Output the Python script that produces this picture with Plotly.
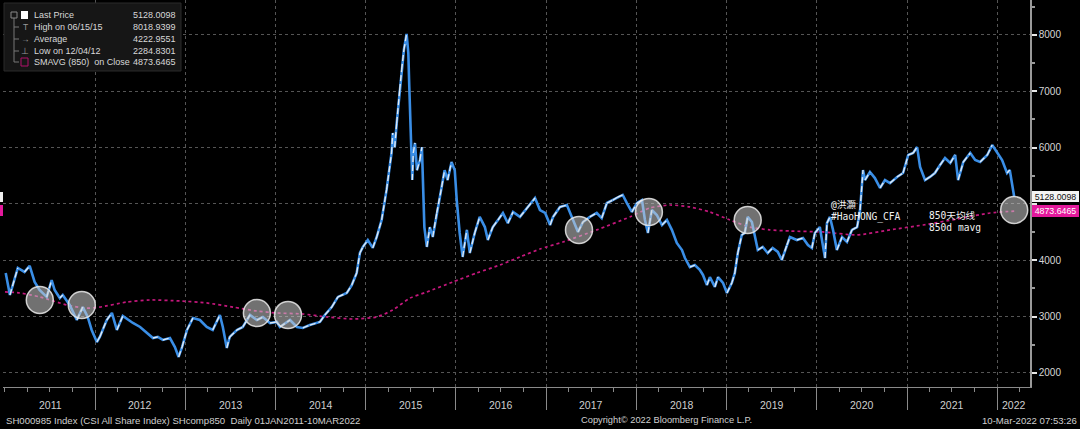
import plotly.graph_objects as go
import pandas as pd

# ---------------- data ----------------
price_dates = [
    "2011-01-04", "2011-01-21", "2011-02-22", "2011-03-21", "2011-04-11", "2011-05-01", "2011-05-21", "2011-06-19",
    "2011-07-09", "2011-07-21", "2011-08-11", "2011-08-23", "2011-09-20", "2011-10-19", "2011-11-12", "2011-12-02",
    "2011-12-18", "2012-01-08", "2012-01-20", "2012-02-17", "2012-03-09", "2012-03-29", "2012-04-22", "2012-05-13",
    "2012-06-02", "2012-07-01", "2012-07-29", "2012-08-22", "2012-09-11", "2012-10-01", "2012-10-30", "2012-11-19",
    "2012-12-04", "2012-12-18", "2013-01-07", "2013-01-31", "2013-02-28", "2013-03-28", "2013-04-21", "2013-05-20",
    "2013-06-01", "2013-06-17", "2013-06-29", "2013-07-28", "2013-08-21", "2013-09-19", "2013-10-17", "2013-11-10",
    "2013-12-09", "2014-01-06", "2014-01-18", "2014-02-28", "2014-03-28", "2014-04-21", "2014-05-19", "2014-06-29",
    "2014-07-19", "2014-08-16", "2014-09-10", "2014-10-16", "2014-11-05", "2014-11-25", "2014-12-08", "2014-12-20",
    "2015-01-09", "2015-01-29", "2015-02-14", "2015-03-06", "2015-03-26", "2015-04-15", "2015-04-20", "2015-04-28",
    "2015-05-06", "2015-05-18", "2015-05-26", "2015-06-04", "2015-06-15", "2015-06-22", "2015-06-26", "2015-07-01",
    "2015-07-08", "2015-07-12", "2015-07-19", "2015-07-27", "2015-08-08", "2015-08-16", "2015-08-20", "2015-08-26",
    "2015-09-05", "2015-09-17", "2015-09-29", "2015-10-15", "2015-11-04", "2015-11-16", "2015-11-28", "2015-12-14",
    "2015-12-27", "2016-01-04", "2016-01-16", "2016-01-28", "2016-02-14", "2016-02-26", "2016-03-17", "2016-04-06",
    "2016-04-27", "2016-05-09", "2016-05-29", "2016-06-19", "2016-07-09", "2016-07-29", "2016-08-19", "2016-09-16",
    "2016-10-15", "2016-11-16", "2016-12-06", "2016-12-27", "2017-01-16", "2017-01-28", "2017-02-25", "2017-03-25",
    "2017-04-14", "2017-05-09", "2017-05-29", "2017-06-26", "2017-07-24", "2017-08-13", "2017-09-03", "2017-09-27",
    "2017-10-17", "2017-11-06", "2017-11-23", "2017-12-13", "2018-01-03", "2018-01-23", "2018-02-04", "2018-02-16",
    "2018-03-04", "2018-03-24", "2018-04-14", "2018-05-04", "2018-05-24", "2018-06-13", "2018-07-04", "2018-07-16",
    "2018-08-05", "2018-08-25", "2018-09-14", "2018-09-27", "2018-10-13", "2018-10-25", "2018-11-14", "2018-11-27",
    "2018-12-17", "2019-01-02", "2019-01-22", "2019-02-03", "2019-02-15", "2019-03-03", "2019-03-15", "2019-03-27",
    "2019-04-13", "2019-04-25", "2019-05-07", "2019-05-27", "2019-06-16", "2019-07-06", "2019-07-27", "2019-08-12",
    "2019-09-02", "2019-09-14", "2019-10-12", "2019-11-06", "2019-11-26", "2019-12-12", "2019-12-24", "2020-01-13",
    "2020-02-03", "2020-02-11", "2020-02-23", "2020-03-06", "2020-03-22", "2020-04-12", "2020-05-02", "2020-05-22",
    "2020-06-12", "2020-06-24", "2020-07-06", "2020-07-14", "2020-08-03", "2020-08-23", "2020-09-13", "2020-10-03",
    "2020-10-23", "2020-11-21", "2020-12-15", "2021-01-05", "2021-01-25", "2021-02-10", "2021-02-22", "2021-03-14",
    "2021-04-03", "2021-04-23", "2021-05-14", "2021-06-03", "2021-06-24", "2021-07-14", "2021-07-26", "2021-08-16",
    "2021-09-13", "2021-10-03", "2021-10-23", "2021-11-21", "2021-12-11", "2021-12-31", "2022-01-20", "2022-02-09",
    "2022-02-20", "2022-03-10",
]
price_values = [
    3775, 3385, 3864, 3793, 3900, 3615, 3473, 3350,
    3650, 3473, 3330, 3385, 3207, 2940, 3170, 2994,
    2763, 2550, 2640, 2940, 3065, 2763, 3012, 2940,
    2887, 2817, 2710, 2620, 2640, 2586, 2620, 2460,
    2284.83, 2460, 2763, 2976, 2940, 2817, 2763, 3030,
    2817, 2444, 2640, 2763, 2817, 3030, 2940, 2994,
    2887, 2905, 2817, 2940, 2817, 2800, 2850, 2905,
    3030, 3170, 3350, 3420, 3560, 3775, 4130, 4237,
    4360, 4220, 4414, 4716, 5250, 5905, 6260, 6010,
    6437, 7023, 7380, 7733, 8018.94, 7680, 7077, 6190,
    5425, 5905, 6083, 5600, 5780, 6010, 5300, 4590,
    4237, 4590, 4414, 4840, 5300, 5600, 5425, 5745,
    5600, 5070, 4485, 4060, 4540, 4130, 4485, 4770,
    4590, 4360, 4590, 4716, 4840, 4660, 4858, 4770,
    4929, 5106, 4893, 4840, 4627, 4770, 4947, 4982,
    4770, 4503, 4680, 4770, 4840, 4750, 5017, 5070,
    5124, 5160, 5017, 4858, 5017, 5070, 4716, 4485,
    4893, 4805, 4627, 4716, 4540, 4308, 4183, 4040,
    3880, 3915, 3830, 3740, 3560, 3700, 3527, 3700,
    3600, 3420, 3600, 3775, 4130, 4450, 4485, 4770,
    4680, 4414, 4183, 4237, 4130, 4220, 4150, 4005,
    4272, 4414, 4360, 4396, 4272, 4218, 4485, 4590,
    4040, 4660, 4770, 4550, 4183, 4414, 4325, 4540,
    4590, 4893, 5603, 5425, 5568, 5460, 5284, 5425,
    5370, 5480, 5550, 5870, 5905, 6010, 5656, 5425,
    5480, 5550, 5692, 5816, 5727, 5870, 5425, 5745,
    5905, 5780, 5745, 5870, 6047, 5923, 5780, 5550,
    5603, 5128.0098,
]

sma_dates = [
    "2011-01-01", "2011-03-02", "2011-05-22", "2011-09-08", "2011-11-28", "2012-01-20", "2012-05-09", "2012-08-10",
    "2012-12-10", "2013-03-28", "2013-07-12", "2013-10-17", "2014-01-06", "2014-04-21", "2014-07-27", "2014-11-09",
    "2015-02-14", "2015-04-20", "2015-06-29", "2015-09-05", "2015-12-19", "2016-03-25", "2016-06-27", "2016-09-16",
    "2016-12-06", "2017-03-09", "2017-07-24", "2017-12-05", "2018-02-24", "2018-05-16", "2018-08-05", "2018-10-25",
    "2019-01-14", "2019-04-05", "2019-06-24", "2019-09-14", "2020-01-25", "2020-06-12", "2020-10-23", "2021-03-06",
    "2021-07-22", "2021-12-02", "2022-03-10",
]
sma_values = [
    3440, 3420, 3350, 3207, 3150, 3170, 3260, 3296,
    3278, 3243, 3170, 3100, 3065, 3047, 2994, 2958,
    2994, 3118, 3330, 3438, 3615, 3775, 3917, 4060,
    4200, 4325, 4540, 4770, 4929, 4982, 4947, 4858,
    4716, 4590, 4540, 4520, 4503, 4450, 4540, 4627,
    4734, 4840, 4873.6465,
]

circle_dates = ["2011-05-22", "2011-11-08", "2013-10-17", "2014-02-20",
                "2017-05-13", "2018-02-20", "2019-03-27", "2022-03-10"]
circle_values = [3296, 3207, 3065, 3030, 4540, 4858, 4716, 4893]

year_labels = [str(y) for y in range(2011, 2023)]
y_tick_values = [2000, 3000, 4000, 5000, 6000, 7000, 8000]
y_tick_labels = ["2000", "3000", "4000", "", "6000", "7000", "8000"]  # 5000 is covered by the value tags
y_minor_values = [2500, 3500, 4500, 5500, 6500, 7500, 8500]

legend_labels = ["Last Price", "High on 06/15/15", "Average", "Low on 12/04/12", "SMAVG (850)  on Close"]
legend_values = ["5128.0098", "8018.9399", "4222.9551", "2284.8301", "4873.6465"]

last_price = 5128.0098
last_sma = 4873.6465

# ---------------- layout geometry ----------------
W, H = 1080, 429
PL, PR, PT, PB = 3, 1030, 0, 387
X_RANGE = ["2010-12-24", "2022-05-13"]
Y_RANGE = [1751, 8621]


def px(x):
    return (x - PL) / (PR - PL)


def py(y):
    return (PB - y) / (PB - PT)


BLUE = "#3a8ee6"
WHITE = "#f4f4f4"
PINK = "#c4177c"
GREY_TXT = "#cfcfcf"
GRID = "#555555"
AXIS = "#9a9a9a"
FONT = "Liberation Sans, Arial, sans-serif"
MONO = "DejaVu Sans Mono, Noto Sans CJK SC, monospace"

fig = go.Figure()

# SMAVG 850 line (dotted magenta)
fig.add_trace(go.Scatter(x=sma_dates, y=sma_values, mode="lines",
                         line=dict(color=PINK, width=1.7, dash="dot", shape="spline", smoothing=0.6),
                         hoverinfo="skip", showlegend=False))

# price: blue base line
fig.add_trace(go.Scatter(x=price_dates, y=price_values, mode="lines",
                         line=dict(color=BLUE, width=2.6), hoverinfo="skip", showlegend=False))

# white highlight on rising segments
wx, wy = [], []
for i in range(1, len(price_values)):
    if price_values[i] > price_values[i - 1]:
        wx += [price_dates[i - 1], price_dates[i], None]
        wy += [price_values[i - 1], price_values[i], None]
fig.add_trace(go.Scatter(x=wx, y=wy, mode="lines", connectgaps=False,
                         line=dict(color=WHITE, width=1.4, dash="6px,3px"), opacity=0.9,
                         hoverinfo="skip", showlegend=False))

# grey highlight circles
fig.add_trace(go.Scatter(x=circle_dates, y=circle_values, mode="markers",
                         marker=dict(size=27, color="rgba(205,205,205,0.55)",
                                     line=dict(color="rgba(235,235,235,0.85)", width=1.5)),
                         hoverinfo="skip", showlegend=False))

annotations = []
shapes = []

# year labels centred in the visible part of each year
rng_lo = pd.Timestamp(X_RANGE[0])
rng_hi = pd.Timestamp(X_RANGE[1])
for lab in year_labels:
    y0 = max(pd.Timestamp(f"{lab}-01-01"), rng_lo)
    y1 = min(pd.Timestamp(f"{int(lab) + 1}-01-01"), rng_hi)
    mid = y0 + (y1 - y0) / 2
    annotations.append(dict(x=mid, y=py(405), xref="x", yref="paper", text=lab, showarrow=False,
                            font=dict(family=FONT, size=10.5, color=GREY_TXT), xanchor="center", yanchor="middle"))

# footer text
annotations.append(dict(x=px(4), y=py(420), xref="paper", yref="paper", showarrow=False, xanchor="left", yanchor="middle",
                        text="SH000985 Index (CSI All Share Index) SHcomp850  Daily 01JAN2011-10MAR2022",
                        font=dict(family=FONT, size=9.6, color=GREY_TXT)))
annotations.append(dict(x=px(579), y=py(420), xref="paper", yref="paper", showarrow=False, xanchor="left", yanchor="middle",
                        text="Copyright© 2022 Bloomberg Finance L.P.",
                        font=dict(family=FONT, size=9.3, color=GREY_TXT)))
annotations.append(dict(x=px(1079), y=py(420), xref="paper", yref="paper", showarrow=False, xanchor="right", yanchor="middle",
                        text="10-Mar-2022 07:53:26",
                        font=dict(family=FONT, size=9.6, color=GREY_TXT)))

# price / SMA value tags on the right axis
annotations.append(dict(x=px(1032), y=py(196), xref="paper", yref="paper", showarrow=False, xanchor="left", yanchor="middle",
                        text=f"{last_price:.4f}", bgcolor="#f4f4f4", borderwidth=0, borderpad=0,
                        height=11, width=47,
                        font=dict(family=FONT, size=8.8, color="#111111")))
annotations.append(dict(x=px(1032), y=py(211), xref="paper", yref="paper", showarrow=False, xanchor="left", yanchor="middle",
                        text=f"{last_sma:.4f}", bgcolor="#e3199c", borderwidth=0, borderpad=0,
                        height=12, width=47,
                        font=dict(family=FONT, size=8.8, color="#ffffff")))
# little tags at the far left edge
shapes.append(dict(type="rect", xref="paper", yref="paper", x0=px(0), x1=px(3), y0=py(202), y1=py(192),
                   fillcolor="#eeeeee", line=dict(width=0), layer="above"))
shapes.append(dict(type="rect", xref="paper", yref="paper", x0=px(0), x1=px(3), y0=py(216), y1=py(205),
                   fillcolor="#e3199c", line=dict(width=0), layer="above"))

# chart watermark / notes
for txt, x, y in [("@洪灝", 829, 204), ("#HaoHONG_CFA", 829, 217), ("850天均线", 927, 215), ("850d mavg", 927, 227)]:
    annotations.append(dict(x=px(x), y=py(y), xref="paper", yref="paper", showarrow=False, xanchor="left", yanchor="middle",
                            text=txt, font=dict(family=MONO, size=9.6, color="#f0f0f0")))

# legend box
shapes.append(dict(type="rect", xref="paper", yref="paper", x0=px(4), x1=px(181), y0=py(71), y1=py(3),
                   fillcolor="#161616", line=dict(color="#2a2a2a", width=1), layer="above"))
row_y = [15, 27, 39, 51, 62]
# tree lines
shapes.append(dict(type="line", xref="paper", yref="paper", x0=px(14), x1=px(14), y0=py(18), y1=py(62),
                   line=dict(color="#777777", width=1), layer="above"))
for ry in row_y[1:]:
    shapes.append(dict(type="line", xref="paper", yref="paper", x0=px(14), x1=px(19), y0=py(ry), y1=py(ry),
                       line=dict(color="#777777", width=1), layer="above"))
shapes.append(dict(type="rect", xref="paper", yref="paper", x0=px(11), x1=px(17), y0=py(18), y1=py(12),
                   fillcolor="#161616", line=dict(color="#888888", width=1), layer="above"))
# white square (last price)
shapes.append(dict(type="rect", xref="paper", yref="paper", x0=px(21), x1=px(28), y0=py(19), y1=py(11),
                   fillcolor="#ffffff", line=dict(width=0), layer="above"))
# magenta outlined square (SMAVG)
shapes.append(dict(type="rect", xref="paper", yref="paper", x0=px(21), x1=px(28), y0=py(66), y1=py(58),
                   fillcolor="rgba(0,0,0,0)", line=dict(color="#b0106a", width=1), layer="above"))
icons = ["", "T", "→", "⊥", ""]
for ic, ry in zip(icons, row_y):
    if ic:
        annotations.append(dict(x=px(25), y=py(ry), xref="paper", yref="paper", showarrow=False, xanchor="center",
                                yanchor="middle", text=ic, font=dict(family=FONT, size=8.5, color="#9a9a9a")))
for lab, val, ry in zip(legend_labels, legend_values, row_y):
    annotations.append(dict(x=px(32), y=py(ry), xref="paper", yref="paper", showarrow=False, xanchor="left",
                            yanchor="middle", text=lab, font=dict(family=FONT, size=9, color="#d8d8d8")))
    annotations.append(dict(x=px(178), y=py(ry), xref="paper", yref="paper", showarrow=False, xanchor="right",
                            yanchor="middle", text=val, font=dict(family=FONT, size=9, color="#d8d8d8")))

fig.update_layout(
    width=W, height=H,
    margin=dict(l=PL, r=W - PR, t=PT, b=H - PB),
    paper_bgcolor="#000000", plot_bgcolor="#000000",
    showlegend=False,
    annotations=annotations, shapes=shapes,
    xaxis=dict(
        type="date", range=X_RANGE,
        tickvals=[f"{y}-01-01" for y in range(2012, 2023)],
        showticklabels=False,
        ticks="outside", ticklen=22, tickcolor="#8a8a8a", tickwidth=1,
        showgrid=True, gridcolor=GRID, griddash="dot", gridwidth=1,
        showline=True, linecolor="#8a8a8a", linewidth=1,
        minor=dict(dtick="M3", tick0="2011-01-01", ticks="outside", ticklen=4, tickcolor="#8a8a8a", showgrid=False),
        zeroline=False, fixedrange=True,
    ),
    yaxis=dict(
        side="right", range=Y_RANGE,
        tickvals=y_tick_values, ticktext=y_tick_labels,
        tickfont=dict(family=FONT, size=10, color="#d6d6d6"),
        ticks="outside", ticklen=5, tickwidth=2, tickcolor="#e8e8e8",
        showgrid=True, gridcolor=GRID, griddash="dot", gridwidth=1,
        showline=True, linecolor=AXIS, linewidth=1.5,
        minor=dict(tickvals=y_minor_values, ticks="outside", ticklen=3, tickcolor=AXIS, showgrid=False),
        zeroline=False, fixedrange=True,
    ),
)

fig.write_html("out.html")
